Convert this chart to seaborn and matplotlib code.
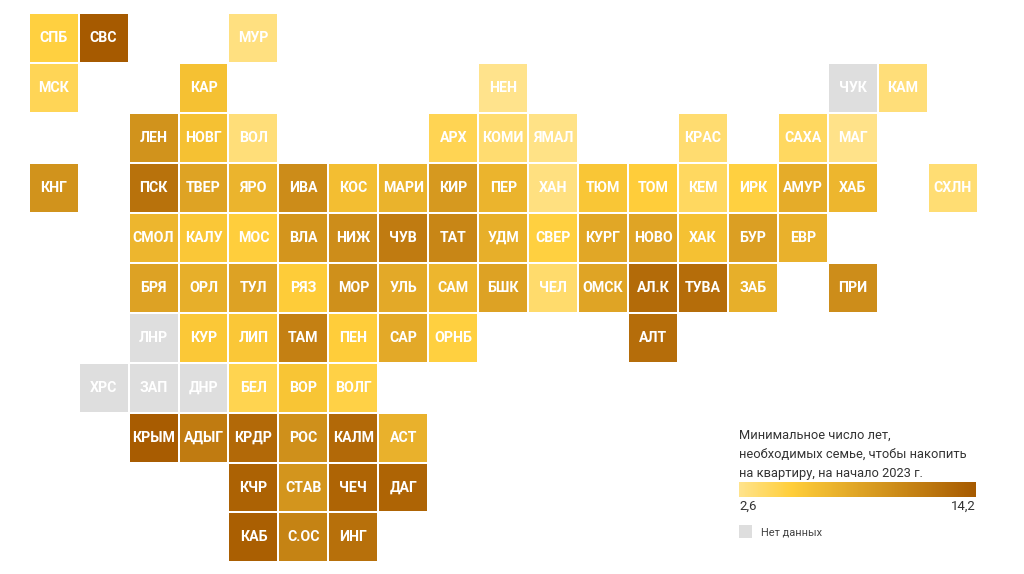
import numpy as np
import pandas as pd
import matplotlib
matplotlib.use("Agg")
import matplotlib.pyplot as plt
from matplotlib.colors import LinearSegmentedColormap, ListedColormap
from matplotlib.patches import Rectangle
import seaborn as sns

nan = float("nan")

regions = [
    "СПБ", "СВС", "МУР",
    "МСК", "КАР", "НЕН", "ЧУК", "КАМ",
    "ЛЕН", "НОВГ", "ВОЛ", "АРХ", "КОМИ", "ЯМАЛ", "КРАС", "САХА", "МАГ",
    "КНГ", "ПСК", "ТВЕР", "ЯРО", "ИВА", "КОС", "МАРИ", "КИР", "ПЕР", "ХАН", "ТЮМ", "ТОМ", "КЕМ", "ИРК", "АМУР", "ХАБ", "СХЛН",
    "СМОЛ", "КАЛУ", "МОС", "ВЛА", "НИЖ", "ЧУВ", "ТАТ", "УДМ", "СВЕР", "КУРГ", "НОВО", "ХАК", "БУР", "ЕВР",
    "БРЯ", "ОРЛ", "ТУЛ", "РЯЗ", "МОР", "УЛЬ", "САМ", "БШК", "ЧЕЛ", "ОМСК", "АЛ.К", "ТУВА", "ЗАБ", "ПРИ",
    "ЛНР", "КУР", "ЛИП", "ТАМ", "ПЕН", "САР", "ОРНБ", "АЛТ",
    "ХРС", "ЗАП", "ДНР", "БЕЛ", "ВОР", "ВОЛГ",
    "КРЫМ", "АДЫГ", "КРДР", "РОС", "КАЛМ", "АСТ",
    "КЧР", "СТАВ", "ЧЕЧ", "ДАГ",
    "КАБ", "С.ОС", "ИНГ",
]
grid_rows = (
    [0] * 3 + [1] * 5 + [2] * 9 + [3] * 17 + [4] * 14 + [5] * 14
    + [6] * 8 + [7] * 6 + [8] * 6 + [9] * 4 + [10] * 3
)
grid_cols = [
    0, 1, 4,
    0, 3, 9, 16, 17,
    2, 3, 4, 8, 9, 10, 13, 15, 16,
    0, 2, 3, 4, 5, 6, 7, 8, 9, 10, 11, 12, 13, 14, 15, 16, 18,
    2, 3, 4, 5, 6, 7, 8, 9, 10, 11, 12, 13, 14, 15,
    2, 3, 4, 5, 6, 7, 8, 9, 10, 11, 12, 13, 14, 16,
    2, 3, 4, 5, 6, 7, 8, 12,
    1, 2, 3, 4, 5, 6,
    2, 3, 4, 5, 6, 7,
    4, 5, 6, 7,
    4, 5, 6,
]
# years
years = [
    5.0, 14.2, 3.0,
    4.3, 6.2, 2.6, nan, 3.2,
    9.8, 6.2, 3.2, 4.4, 3.5, 2.8, 3.5, 4.0, 2.7,
    9.8, 12.3, 8.5, 7.2, 10.3, 6.4, 7.3, 9.3, 7.2, 3.0, 5.8, 5.2, 4.0, 5.0, 7.8, 7.0, 3.4,
    7.0, 5.7, 5.1, 9.6, 10.2, 11.6, 10.8, 7.6, 5.0, 8.2, 8.4, 6.2, 8.8, 7.4,
    8.6, 7.6, 8.6, 5.3, 10.0, 8.0, 7.0, 8.6, 3.6, 8.4, 12.8, 12.7, 7.6, 10.2,
    nan, 5.6, 5.7, 11.2, 5.2, 8.0, 5.0, 12.7,
    nan, nan, nan, 4.5, 5.9, 4.8,
    14.0, 11.6, 13.0, 10.0, 13.0, 7.4,
    13.6, 9.6, 13.4, 13.4,
    13.8, 11.0, 12.5,
]
legend_title = "Минимальное число лет,\nнеобходимых семье, чтобы накопить\nна квартиру, на начало 2023 г."
scale_labels = ["2,6", "14,2"]
no_data_label = "Нет данных"

W, H = 1024, 574
plt.rcParams["font.family"] = ["Roboto", "DejaVu Sans"]

df = pd.DataFrame({"name": regions, "row": grid_rows, "col": grid_cols, "years": years})
all_rows = range(11)
all_cols = range(19)
values = df.pivot(index="row", columns="col", values="years").reindex(index=all_rows, columns=all_cols)
names = df.pivot(index="row", columns="col", values="name").reindex(index=all_rows, columns=all_cols)
occupied = names.notna()

cmap = LinearSegmentedColormap.from_list(
    "years", [(0, "#ffe38c"), (0.22, "#ffce3a"), (1, "#a65a00")]
)

fig = plt.figure(figsize=(W / 100, H / 100), dpi=100)
ax = fig.add_axes([28.7 / W, 1 - 562.4 / H, 949 / W, 549 / H])
cax = fig.add_axes([739 / W, 1 - 497 / H, 237 / W, 15 / H])

annot_kws = {"color": "white", "fontsize": 10.2, "fontweight": "semibold"}
common = dict(
    annot=names.fillna("").values, fmt="", annot_kws=annot_kws,
    linewidths=1.1, linecolor="white", xticklabels=False, yticklabels=False,
    square=False, ax=ax,
)
# no data cells first
sns.heatmap(
    values.isna().astype(float), mask=~(occupied & values.isna()),
    cmap=ListedColormap(["#dedede"]), cbar=False, **common,
)
sns.heatmap(
    values, mask=values.isna(), cmap=cmap, vmin=2.6, vmax=14.2,
    cbar_ax=cax, cbar_kws={"orientation": "horizontal"}, **common,
)
ax.set_xlabel("")
ax.set_ylabel("")

cbar = ax.collections[-1].colorbar
cbar.outline.set_visible(False)
cbar.set_ticks([2.6, 14.2], labels=scale_labels)
cax.tick_params(length=0, pad=2, labelsize=9.5, labelcolor="#333333")
cax.get_xticklabels()[0].set_ha("left")
cax.get_xticklabels()[1].set_ha("right")

fig.text(739 / W, 1 - 429 / H, legend_title, fontsize=9.3, color="#333333",
         va="top", ha="left", linespacing=1.6)
fig.add_artist(Rectangle((739 / W, 1 - 538 / H), 13 / W, 13 / H,
                         transform=fig.transFigure, color="#dedede", lw=0))
fig.text(761 / W, 1 - 532.5 / H, no_data_label, fontsize=7.9, color="#444444",
         va="center", ha="left")

fig.savefig("out.png", dpi=100)
